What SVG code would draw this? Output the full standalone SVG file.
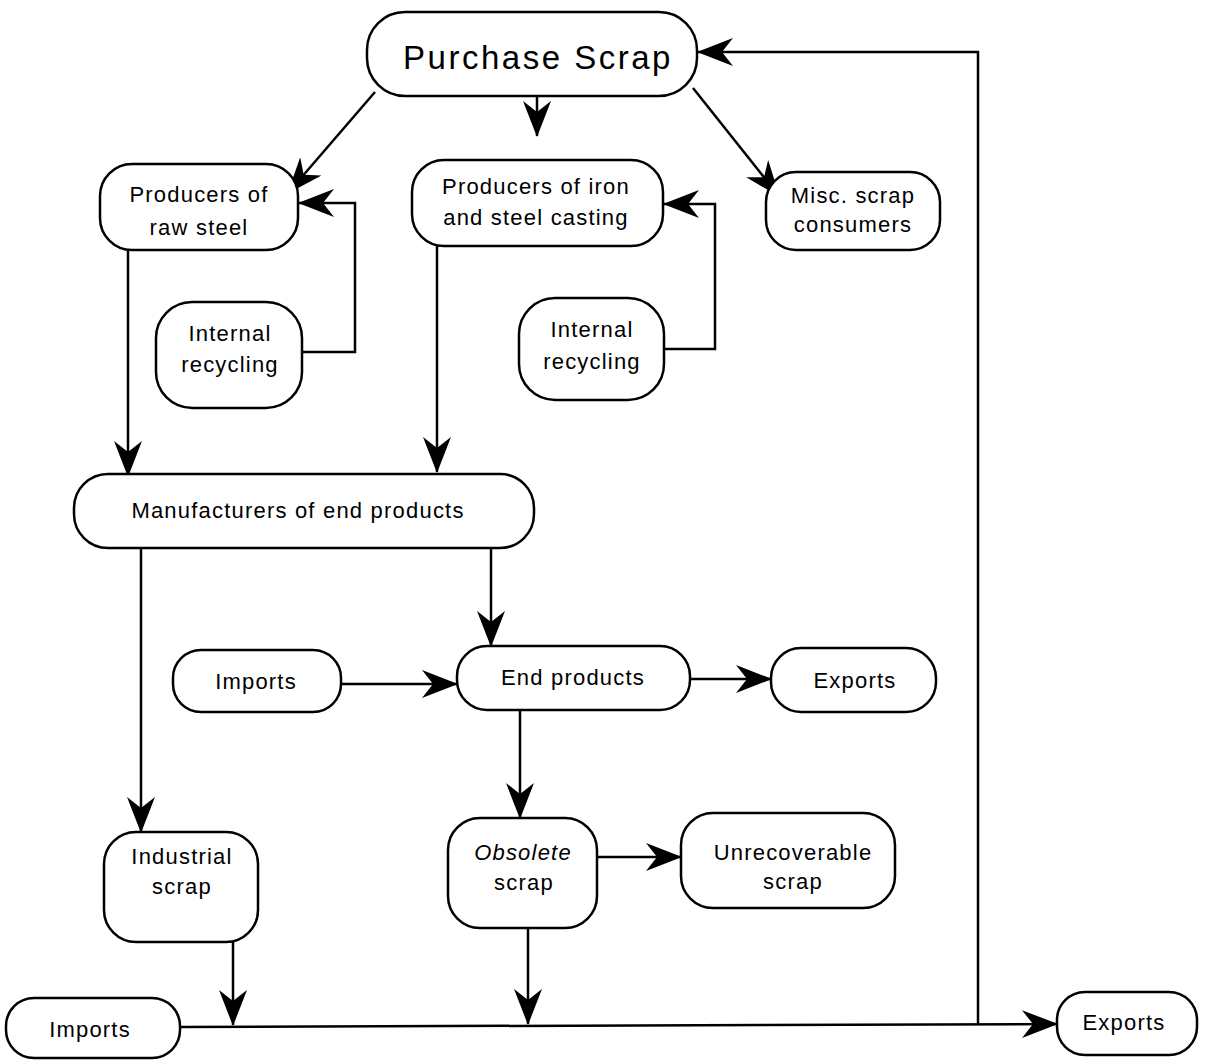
<svg xmlns="http://www.w3.org/2000/svg" width="1213" height="1060" viewBox="0 0 1213 1060">
<style>
.n{fill:#fff;stroke:#000;stroke-width:2.5}
.t{font-family:"Liberation Sans",Arial,sans-serif;font-size:22px;letter-spacing:1.2px;fill:#000;text-anchor:middle}
.c{fill:none;stroke:#000;stroke-width:2.5}
</style>
<defs>
<marker id="a" viewBox="0 0 36 30" refX="35" refY="15" markerWidth="36" markerHeight="30" markerUnits="userSpaceOnUse" orient="auto">
<path d="M36,15 L0,1 L11,15 L0,29 Z" fill="#000"/>
</marker>
</defs>
<rect width="1213" height="1060" fill="#fff"/>
<g id="connectors">
<path class="c" d="M375,92 L288,193" marker-end="url(#a)"/>
<path class="c" d="M537,96 L537,136" marker-end="url(#a)"/>
<path class="c" d="M693,88 L779,196" marker-end="url(#a)"/>
<path class="c" d="M302,352 L355,352 L355,203 L299,203" marker-end="url(#a)"/>
<path class="c" d="M664,349 L715,349 L715,204 L664,204" marker-end="url(#a)"/>
<path class="c" d="M128,250 L128,476" marker-end="url(#a)"/>
<path class="c" d="M437,246 L437,472" marker-end="url(#a)"/>
<path class="c" d="M141,548 L141,832" marker-end="url(#a)"/>
<path class="c" d="M491,548 L491,646" marker-end="url(#a)"/>
<path class="c" d="M341,684 L457,684" marker-end="url(#a)"/>
<path class="c" d="M690,679 L771,679" marker-end="url(#a)"/>
<path class="c" d="M520,710 L520,818" marker-end="url(#a)"/>
<path class="c" d="M597,857 L681,857" marker-end="url(#a)"/>
<path class="c" d="M233,942 L233,1025" marker-end="url(#a)"/>
<path class="c" d="M528,928 L528,1024" marker-end="url(#a)"/>
<path class="c" d="M180,1027 L1057,1024" marker-end="url(#a)"/>
<path class="c" d="M978,1024 L978,52 L698,52" marker-end="url(#a)"/>
</g>
<g id="purchase-scrap"><rect class="n" x="367" y="12" width="330" height="84" rx="38"/><text class="t" x="538" y="69" style="font-size:33px;letter-spacing:2.5px">Purchase Scrap</text></g>
<g id="raw-steel"><rect class="n" x="100" y="164" width="198" height="86" rx="32"/><text class="t" x="199" y="202">Producers of</text><text class="t" x="199" y="235">raw steel</text></g>
<g id="casting"><rect class="n" x="412" y="160" width="251" height="86" rx="32"/><text class="t" x="536" y="194">Producers of iron</text><text class="t" x="536" y="225">and steel casting</text></g>
<g id="misc"><rect class="n" x="766" y="172" width="174" height="78" rx="30"/><text class="t" x="853" y="203">Misc. scrap</text><text class="t" x="853" y="232">consumers</text></g>
<g id="recycling-1"><rect class="n" x="156" y="302" width="146" height="106" rx="36"/><text class="t" x="230" y="341">Internal</text><text class="t" x="230" y="372">recycling</text></g>
<g id="recycling-2"><rect class="n" x="519" y="298" width="145" height="102" rx="36"/><text class="t" x="592" y="337">Internal</text><text class="t" x="592" y="369">recycling</text></g>
<g id="manufacturers"><rect class="n" x="74" y="474" width="460" height="74" rx="34"/><text class="t" x="298" y="518">Manufacturers of end products</text></g>
<g id="imports-1"><rect class="n" x="173" y="650" width="168" height="62" rx="28"/><text class="t" x="256" y="689">Imports</text></g>
<g id="end-products"><rect class="n" x="457" y="646" width="233" height="64" rx="30"/><text class="t" x="573" y="685">End products</text></g>
<g id="exports-1"><rect class="n" x="771" y="648" width="165" height="64" rx="30"/><text class="t" x="855" y="688">Exports</text></g>
<g id="industrial-scrap"><rect class="n" x="104" y="832" width="154" height="110" rx="32"/><text class="t" x="182" y="864">Industrial</text><text class="t" x="182" y="894">scrap</text></g>
<g id="obsolete-scrap"><rect class="n" x="448" y="818" width="149" height="110" rx="32"/><text class="t" x="523" y="860" font-style="italic">Obsolete</text><text class="t" x="524" y="890">scrap</text></g>
<g id="unrecoverable"><rect class="n" x="681" y="813" width="214" height="95" rx="32"/><text class="t" x="793" y="860">Unrecoverable</text><text class="t" x="793" y="889">scrap</text></g>
<g id="imports-2"><rect class="n" x="6" y="998" width="174" height="60" rx="28"/><text class="t" x="90" y="1037">Imports</text></g>
<g id="exports-2"><rect class="n" x="1057" y="992" width="140" height="63" rx="28"/><text class="t" x="1124" y="1030">Exports</text></g>
</svg>
